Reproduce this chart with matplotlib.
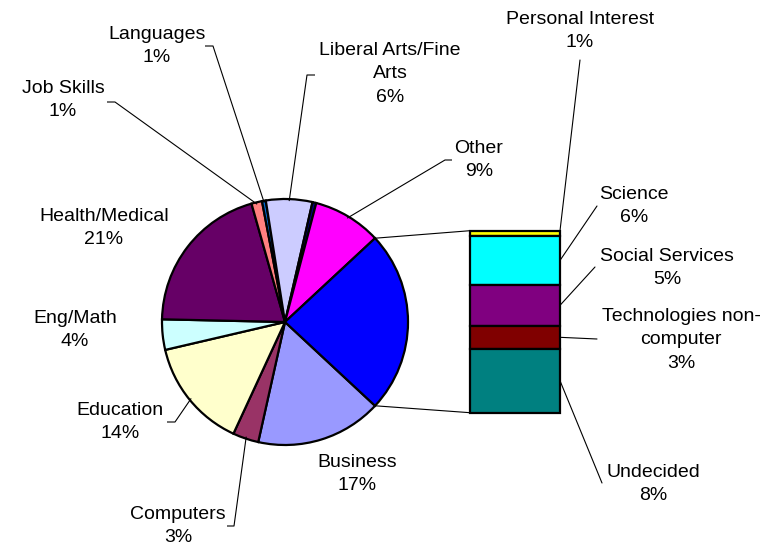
import matplotlib
matplotlib.use("Agg")
import matplotlib.pyplot as plt
from matplotlib.patches import ConnectionPatch
import numpy as np

plt.rcParams['font.family'] = ['Liberation Sans', 'DejaVu Sans']

# ---- data ----
pie_categories = ["Business", "Computers", "Education", "Eng/Math", "Health/Medical",
                  "Job Skills", "Languages", "Liberal Arts/Fine\nArts", "", "Other"]
pie_values = [16.6, 3.4, 14.5, 4.0, 20.3, 1.4, 0.5, 6.1, 0.5, 9.0]
pie_labels = ["17%", "3%", "14%", "4%", "21%", "1%", "1%", "6%", "", "9%"]
pie_colors = ["#9999FF", "#993366", "#FFFFCC", "#CCFFFF", "#660066",
              "#FF8080", "#0066CC", "#CCCCFF", "#000080", "#FF00FF"]
agg_color = "#0000FF"

bar_categories = ["Personal Interest", "Science", "Social Services",
                  "Technologies non-\ncomputer", "Undecided"]
bar_values = [0.7, 6.4, 5.4, 3.0, 8.4]
bar_labels = ["1%", "6%", "5%", "3%", "8%"]
bar_colors = ["#FFFF00", "#00FFFF", "#800080", "#800000", "#008080"]

# ---- layout (pixel coordinates, y from top) ----
W, H = 779, 546
def Y(y):
    return H - y

pie_center = (285, 322)
pie_radius = 123
# text center, and leader path points (tick start, tick end) ; None = no leader
pie_text_pos = [(357, 474), (178, 526), (120, 422), (75, 330), (104, 228),
                (63, 100), (157, 46), (390, 74), None, (479, 160)]
pie_leader = [None, [(227, 526), (234, 526)], [(167, 422), (175, 422)], None, None,
              [(107, 102), (115, 102)], [(205, 46), (213, 46)],
              [(315, 75), (307, 75)], None, [(452, 160), (445, 160)]]
bar_text_pos = [(580, 31), (634, 206), (667, 268), (681, 340), (653, 484)]
bar_leader_end = [(580, 60), (597, 206), (595, 267), (597, 339), (602, 483)]

fig = plt.figure(figsize=(W / 100, H / 100), dpi=100)
ax = fig.add_axes([0, 0, 1, 1])

agg_total = sum(bar_values)
values = pie_values + [agg_total]
colors = pie_colors + [agg_color]
total = sum(values)
agg_deg = agg_total / total * 360.0
start = -agg_deg / 2.0

wedges, _ = ax.pie(values, colors=colors, startangle=start, counterclock=False,
                   center=(pie_center[0], Y(pie_center[1])), radius=pie_radius,
                   wedgeprops=dict(edgecolor="black", linewidth=1.6))
ax.set_xlim(0, W)
ax.set_ylim(0, H)
ax.set_aspect("auto")
ax.axis("off")

fs = 14
ls = 1.5
cx, cy = pie_center[0], Y(pie_center[1])
for i, w in enumerate(wedges[:-1]):
    pos = pie_text_pos[i]
    if pos is None:
        continue
    ax.text(pos[0], Y(pos[1]), pie_categories[i] + "\n" + pie_labels[i],
            ha="center", va="center", multialignment="center",
            fontsize=fs, linespacing=ls)
    ld = pie_leader[i]
    if ld is not None:
        mid = np.deg2rad((w.theta1 + w.theta2) / 2.0)
        ex = cx + (pie_radius - 2) * np.cos(mid)
        ey = cy + (pie_radius - 2) * np.sin(mid)
        xs = [ld[0][0], ld[1][0], ex]
        ys = [Y(ld[0][1]), Y(ld[1][1]), ey]
        ax.plot(xs, ys, color="black", lw=0.8, solid_capstyle="butt")

# ---- bar of pie ----
bar_left, bar_right, bar_top, bar_bottom = 470, 560, 230.7, 412.7
axb = fig.add_axes([bar_left / W, Y(bar_bottom) / H, (bar_right - bar_left) / W,
                    (bar_bottom - bar_top) / H])
# stack from top: first category at the top
cum = 0.0
bottoms = []
for v in bar_values[::-1]:
    bottoms.append(cum)
    cum += v
bottoms = bottoms[::-1]
axb.bar([0.5] * len(bar_values), bar_values, bottom=bottoms, width=1.0,
        color=bar_colors, edgecolor="black", linewidth=1.6, clip_on=False)
axb.set_xlim(0, 1)
axb.set_ylim(0, agg_total)
axb.axis("off")

for i in range(len(bar_values)):
    tx, ty = bar_text_pos[i]
    ax.text(tx, Y(ty), bar_categories[i] + "\n" + bar_labels[i],
            ha="center", va="center", multialignment="center",
            fontsize=fs, linespacing=ls)
    mid = bottoms[i] + bar_values[i] / 2.0
    if i == 0:
        mid = bottoms[i] + bar_values[i]
    lx, ly = bar_leader_end[i]
    con = ConnectionPatch(xyA=(1.0, mid), coordsA=axb.transData,
                          xyB=(lx, Y(ly)), coordsB=ax.transData,
                          color="black", lw=0.8)
    fig.add_artist(con)

# connectors from the aggregated slice to the bar
agg_w = wedges[-1]
for ang, yb in [(agg_w.theta2, agg_total), (agg_w.theta1, 0.0)]:
    a = np.deg2rad(ang)
    px = cx + pie_radius * np.cos(a)
    py = cy + pie_radius * np.sin(a)
    con = ConnectionPatch(xyA=(px, py), coordsA=ax.transData,
                          xyB=(0.0, yb), coordsB=axb.transData,
                          color="black", lw=0.8)
    fig.add_artist(con)

fig.savefig("out.png", dpi=100, facecolor="white")
